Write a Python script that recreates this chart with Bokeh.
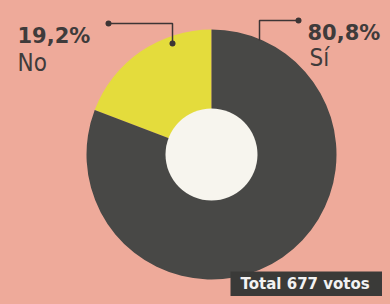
import math
from bokeh.plotting import figure
from bokeh.models import Range1d, GlobalInlineStyleSheet
from bokeh.core.properties import value
from bokeh.embed import file_html
from bokeh.resources import INLINE

# Data
categories = ["No", "Sí"]
percents = [19.2, 80.8]
pct_labels = ["19,2%", "80,8%"]
colors = ["#e4dc3c", "#484846"]
total_label = "Total 677 votos"

BG = "#eeaa9a"
W, H = 382, 296

p = figure(width=W, height=H, output_backend="svg", toolbar_location=None,
           x_range=Range1d(0, W), y_range=Range1d(0, H), min_border=0,
           background_fill_color=BG, border_fill_color=BG, outline_line_color=None)
p.axis.visible = False
p.grid.visible = False
p.stylesheets = [GlobalInlineStyleSheet(css="html, body { background-color: %s; }" % BG)]

# donut geometry
cx, cy = 211, 296 - 154
R, r_in = 125, 46

start = math.pi / 2
starts, ends = [], []
for v in percents:
    a = v / 100.0 * 2 * math.pi
    starts.append(start)
    ends.append(start + a)
    start += a

p.wedge(x=cx, y=cy, radius=R, start_angle=starts, end_angle=ends,
        fill_color=colors, line_color=None)
p.scatter(x=[cx], y=[cy], size=2 * r_in, marker="circle", fill_color="#f7f5ee", line_color=None)

# leader lines
lc = "#3d3535"
p.line(x=[108, 172, 172], y=[273, 273, 253], line_color=lc, line_width=1.5)
p.scatter(x=[108, 172], y=[273, 253], size=6, fill_color=lc, line_color=None)
p.line(x=[298, 259, 259], y=[276, 276, 256], line_color=lc, line_width=1.5)
p.scatter(x=[298], y=[276], size=6, fill_color=lc, line_color=None)

# labels
txt = "#3f3b3b"
p.text(x=[17, 307], y=[261, 264], text=pct_labels, text_font=value("DejaVu Sans"),
       text_font_style="bold", text_font_size="21px", text_color=txt,
       text_baseline="alphabetic", text_align="left")
p.text(x=[17, 309], y=[234, 239], text=categories, text_font=value("DejaVu Sans Condensed"),
       text_font_size="24px", text_color=txt, text_baseline="alphabetic", text_align="left")

# total box
p.quad(left=[230], right=[W], bottom=[0], top=[25], fill_color="#3a3a38", line_color=None)
p.text(x=[240], y=[12.5], text=[total_label], text_font=value("DejaVu Sans"),
       text_font_style="bold", text_font_size="15px", text_color="#f2f2f2",
       text_baseline="middle", text_align="left")

open("out.html", "w").write(file_html(p, INLINE))
